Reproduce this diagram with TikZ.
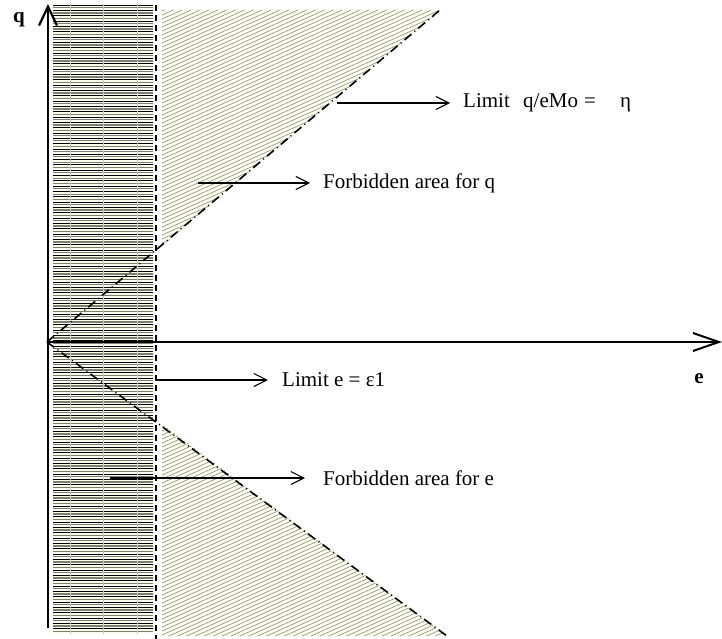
\documentclass[tikz,border=0pt]{standalone}
\usepackage{fontspec}
\setmainfont{Liberation Serif}
\usetikzlibrary{arrows.meta}
\definecolor{cream}{HTML}{FBFBEE}
\definecolor{hgray}{HTML}{7E7E70}
\tikzset{
  lbl/.style={anchor=west,inner sep=0pt,font=\fontsize{21}{24}\selectfont},
  axlbl/.style={inner sep=0pt,font=\fontsize{21}{24}\selectfont\bfseries},
  pointer/.style={line width=1.1pt,-{Straight Barb[length=13pt,width=13pt,line width=1.1pt]}},
  limitline/.style={line width=1.6pt,dash pattern=on 9pt off 4pt on 1pt off 4pt},
  epsline/.style={line width=1.6pt,dash pattern=on 6pt off 4pt},
  axis/.style={line width=2pt},
}
\begin{document}
\begin{tikzpicture}[x=1pt,y=-1pt]
\useasboundingbox (0,0) rectangle (722,639);
% horizontal-line band
\fill[cream] (53,4) rectangle (153,634);
\foreach \y in {5,10.33,...,632}{
  \draw[black,line width=0.8pt] (53,\y) -- (153,\y);
  \draw[hgray,line width=1.3pt] (53,\y+2.6) -- (153,\y+2.6);
}
\foreach \x in {70,103,137}{\draw[hgray!40,line width=0.3pt] (\x,4) -- (\x,634);}
% hatched regions
\begin{scope}
  \clip (162,10) -- (440,10) -- (162,246) -- cycle;
  \fill[cream] (162,10) rectangle (440,246);
  \foreach \c in {0,4,...,460}{\draw[hgray,line width=0.5pt] (160,\c) -- (460,\c-135);}
\end{scope}
\begin{scope}
  \clip (162,424) -- (447,636) -- (162,636) -- cycle;
  \fill[cream] (162,424) rectangle (447,636);
  \foreach \c in {420,424,...,780}{\draw[hgray,line width=0.5pt] (160,\c) -- (460,\c-135);}
\end{scope}
% named points
\coordinate (O) at (47,342);
\coordinate (ytop) at (48,4);
\coordinate (ybot) at (48,628);
\coordinate (xend) at (722,342);
\coordinate (up) at (440,10);
\coordinate (down) at (447,636);
\coordinate (dtop) at (156,5);
\coordinate (dbot) at (156,639);
% limit lines
\draw[limitline] (O) -- (up);
\draw[limitline] (O) -- (down);
\draw[epsline] (dtop) -- (dbot);
% axes
\draw[axis,-{Straight Barb[length=19pt,width=18pt,line width=2.2pt]}] (ybot) -- (ytop);
\draw[axis,-{Straight Barb[length=26pt,width=18pt,line width=2pt]}] (O) -- (xend);
\node[axlbl] (q) at (19,20) {q};
\node[axlbl] (e) at (699,379) {e};
% labels
\node[lbl] (t1) at (463,103) {\makebox[60pt][l]{Limit}\makebox[61pt][l]{q/eMo}\makebox[36pt][l]{=}η};
\node[lbl] (t2) at (323,183) {Forbidden area for q};
\node[lbl] (t3) at (282,380) {Limit e = ε1};
\node[lbl] (t4) at (323,478) {Forbidden area for e};
\coordinate (s1) at (337,103);
\coordinate (s2) at (198,183);
\coordinate (s3) at (157,380);
\coordinate (s4) at (110,478);
\draw[pointer] (s1) -- ([xshift=-13pt]t1.west);
\draw[pointer] (s2) -- ([xshift=-13pt]t2.west);
\draw[pointer] (s3) -- ([xshift=-14pt]t3.west);
\draw[pointer] (s4) -- ([xshift=-18pt]t4.west);
\end{tikzpicture}
\end{document}
